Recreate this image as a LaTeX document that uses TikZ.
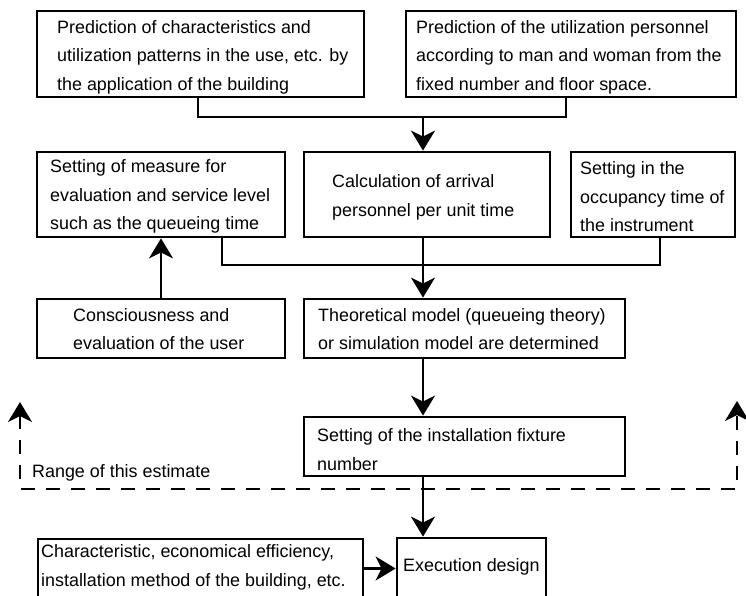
\documentclass[tikz,border=0pt]{standalone}
\usepackage{fontspec}
\setmainfont{Liberation Sans}
\usetikzlibrary{arrows.meta}
\begin{document}
\begin{tikzpicture}[x=1pt,y=-1pt,
  box/.style={draw, line width=2.8pt, inner sep=0pt},
  txt/.style={anchor=west, align=left, inner sep=0pt,
    font=\fontsize{17.9}{28.5}\selectfont},
  link/.style={line width=2.8pt},
  tip/.style={Stealth[length=20pt,width=24pt,inset=6pt]},
  flow/.style={line width=2.8pt, -{Stealth[length=20pt,width=24pt,inset=6pt]}},
  scopeline/.style={line width=2.8pt, dash pattern=on 14pt off 11pt,
    {Stealth[length=20pt,width=24pt,inset=6pt]}-{Stealth[length=20pt,width=24pt,inset=6pt]}}
]
\useasboundingbox (0,0) rectangle (746,596);

% boxes
\node[box, minimum width=327pt, minimum height=86pt] (a1) at (200.5,54) {};
\node[box, minimum width=330pt, minimum height=86pt] (a2) at (571,54) {};
\node[box, minimum width=248pt, minimum height=85pt] (b1) at (161,194.5) {};
\node[box, minimum width=246pt, minimum height=85pt] (b2) at (427,194.5) {};
\node[box, minimum width=164pt, minimum height=85pt] (b3) at (653,194.5) {};
\node[box, minimum width=248pt, minimum height=59pt] (c1) at (161,328.5) {};
\node[box, minimum width=321pt, minimum height=59pt] (c2) at (464.5,328.5) {};
\node[box, minimum width=321pt, minimum height=59pt] (d) at (464.5,446.5) {};
\node[box, minimum width=325pt, minimum height=60pt] (f) at (200.5,569) {};
\node[box, minimum width=149pt, minimum height=61pt] (e) at (471.5,568.5) {};

% box texts
\node[txt] (a1t) at (57,57) {Prediction of characteristics and\\utilization patterns in the use, etc. by\\the application of the building};
\node[txt] (a2t) at (416,57) {Prediction of the utilization personnel\\according to man and woman from the\\fixed number and floor space.};
\node[txt] (b1t) at (50,196.5) {Setting of measure for\\evaluation and service level\\such as the queueing time};
\node[txt] (b2t) at (332,197.3) {Calculation of arrival\\personnel per unit time};
\node[txt] (b3t) at (580,196.8) {Setting in the\\occupancy time of\\the instrument};
\node[txt] (c1t) at (73,329.3) {Consciousness and\\evaluation of the user};
\node[txt] (c2t) at (318,329.3) {Theoretical model (queueing theory)\\or simulation model are determined};
\node[txt] (dt) at (317,449.5) {Setting of the installation fixture\\number};
\node[txt] (ft) at (41,567.3) {Characteristic, economical efficiency,\\installation method of the building, etc.};
\node[txt] (et) at (403,567) {Execution design};
\node[txt] (rt) at (32,473) {Range of this estimate};

% junctions of the flow
\coordinate (spine) at (423,0);
\coordinate (j1) at (423,117);
\coordinate (j2) at (423,265);

% connectors
\draw[link] ([xshift=-2.5pt]a1.south) |- (j1) -| ([xshift=-5pt]a2.south);
\draw[flow] (j1) -- (b2.north -| spine);
\draw[link] ([xshift=61pt]b1.south) |- (j2) -| ([xshift=7pt]b3.south);
\draw[link] (b2.south -| spine) -- (j2);
\draw[flow] (j2) -- (c2.north -| spine);
\draw[flow] (c1.north) -- (b1.south);
\draw[flow] (c2.south -| spine) -- (d.north -| spine);
\draw[flow] (d.south -| spine) -- (e.north -| spine);
\draw[flow] (f.east |- e.west) -- (e.west);

% range of this estimate
\coordinate (lt) at (20,402);
\coordinate (lb) at (20,489);
\coordinate (rb) at (737,489);
\coordinate (rtop) at (737,401);
\draw[scopeline] (lt) -- (lb) -- (rb) -- (rtop);
\end{tikzpicture}
\end{document}
